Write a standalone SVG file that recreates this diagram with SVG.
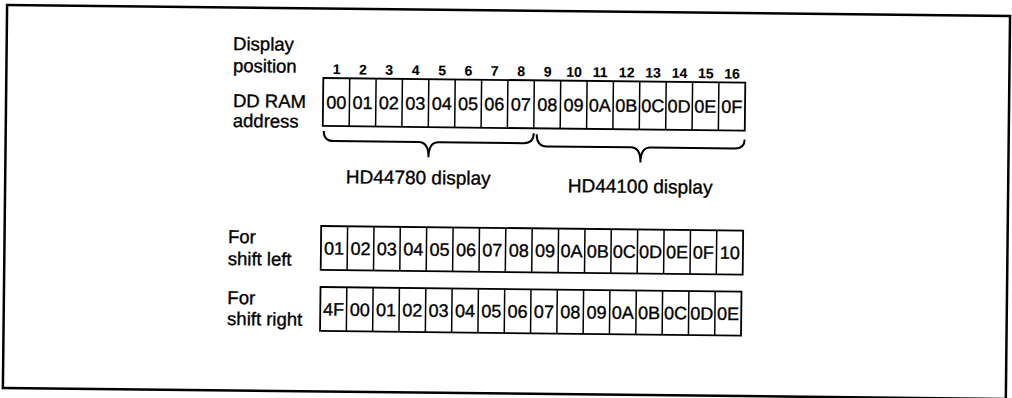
<svg xmlns="http://www.w3.org/2000/svg" width="1012" height="398" viewBox="0 0 1012 398">
<style>
text{font-family:"Liberation Sans",Arial,sans-serif;fill:#000;stroke:#000;stroke-width:0.35}
.lbl{font-size:18.5px}
.big{font-size:19px}
.num{font-size:14px;font-weight:bold;text-anchor:middle;stroke-width:0.1}
.c{font-size:18px;text-anchor:middle}
.box{fill:#fff;stroke:#000;stroke-width:1.8}
.div{fill:none;stroke:#000;stroke-width:1.5}
.brace{fill:none;stroke:#000;stroke-width:2}
</style>
<rect width="1012" height="398" fill="#fff"/>
<g transform="rotate(0.63 506 199)">
<rect id="frame" x="5" y="10.5" width="1003" height="383" fill="none" stroke="#000" stroke-width="2.5"/>
<g id="labels">
<text class="lbl" x="231.5" y="53">Display</text>
<text class="lbl" x="231.5" y="75">position</text>
<text class="lbl" x="232" y="110">DD RAM</text>
<text class="lbl" x="232" y="130">address</text>
<text class="lbl" x="228.5" y="246">For</text>
<text class="lbl" x="228.5" y="268">shift left</text>
<text class="lbl" x="228.5" y="307">For</text>
<text class="lbl" x="228.5" y="328">shift right</text>
</g>
<g id="positions">
<text class="num" x="335.2" y="76">1</text>
<text class="num" x="361.6" y="76">2</text>
<text class="num" x="387.9" y="76">3</text>
<text class="num" x="414.3" y="76">4</text>
<text class="num" x="440.7" y="76">5</text>
<text class="num" x="467.1" y="76">6</text>
<text class="num" x="493.4" y="76">7</text>
<text class="num" x="519.8" y="76">8</text>
<text class="num" x="546.2" y="76">9</text>
<text class="num" x="572.6" y="76">10</text>
<text class="num" x="598.9" y="76">11</text>
<text class="num" x="625.3" y="76">12</text>
<text class="num" x="651.7" y="76">13</text>
<text class="num" x="678.1" y="76">14</text>
<text class="num" x="704.4" y="76">15</text>
<text class="num" x="730.8" y="76">16</text>
</g>
<g id="row-ddram">
<rect class="box" x="322" y="80" width="422" height="48"/>
<path class="div" d="M348.4 80V128M374.8 80V128M401.1 80V128M427.5 80V128M453.9 80V128M480.3 80V128M506.6 80V128M533 80V128M559.4 80V128M585.8 80V128M612.1 80V128M638.5 80V128M664.9 80V128M691.3 80V128M717.6 80V128"/>
<text class="c" x="335.2" y="110.5">00</text>
<text class="c" x="361.6" y="110.5">01</text>
<text class="c" x="387.9" y="110.5">02</text>
<text class="c" x="414.3" y="110.5">03</text>
<text class="c" x="440.7" y="110.5">04</text>
<text class="c" x="467.1" y="110.5">05</text>
<text class="c" x="493.4" y="110.5">06</text>
<text class="c" x="519.8" y="110.5">07</text>
<text class="c" x="546.2" y="110.5">08</text>
<text class="c" x="572.6" y="110.5">09</text>
<text class="c" x="598.9" y="110.5">0A</text>
<text class="c" x="625.3" y="110.5">0B</text>
<text class="c" x="651.7" y="110.5">0C</text>
<text class="c" x="678.1" y="110.5">0D</text>
<text class="c" x="704.4" y="110.5">0E</text>
<text class="c" x="730.8" y="110.5">0F</text>
</g>
<g id="braces">
<path class="brace" d="M323 133Q323 143 333 143L418 143Q428 143 428 158Q428 143 438 143L523 143Q533 143 533 133"/>
<path class="brace" d="M536 134Q536 146 546 146L630 146Q640 146 640 161Q640 146 650 146L734 146Q744 146 744 137"/>
</g>
<g id="display-labels">
<text class="big" x="418" y="185" text-anchor="middle">HD44780 display</text>
<text class="big" x="640" y="191.5" text-anchor="middle">HD44100 display</text>
</g>
<g id="row-shift-left">
<rect class="box" x="321.5" y="228" width="422" height="44"/>
<path class="div" d="M347.9 228V272M374.3 228V272M400.6 228V272M427 228V272M453.4 228V272M479.8 228V272M506.1 228V272M532.5 228V272M558.9 228V272M585.3 228V272M611.6 228V272M638 228V272M664.4 228V272M690.8 228V272M717.1 228V272"/>
<text class="c" x="334.7" y="256.5">01</text>
<text class="c" x="361.1" y="256.5">02</text>
<text class="c" x="387.4" y="256.5">03</text>
<text class="c" x="413.8" y="256.5">04</text>
<text class="c" x="440.2" y="256.5">05</text>
<text class="c" x="466.6" y="256.5">06</text>
<text class="c" x="492.9" y="256.5">07</text>
<text class="c" x="519.3" y="256.5">08</text>
<text class="c" x="545.7" y="256.5">09</text>
<text class="c" x="572.1" y="256.5">0A</text>
<text class="c" x="598.4" y="256.5">0B</text>
<text class="c" x="624.8" y="256.5">0C</text>
<text class="c" x="651.2" y="256.5">0D</text>
<text class="c" x="677.6" y="256.5">0E</text>
<text class="c" x="703.9" y="256.5">0F</text>
<text class="c" x="730.3" y="256.5">10</text>
</g>
<g id="row-shift-right">
<rect class="box" x="321.5" y="289" width="421" height="44"/>
<path class="div" d="M347.8 289V333M374.1 289V333M400.4 289V333M426.8 289V333M453.1 289V333M479.4 289V333M505.7 289V333M532 289V333M558.3 289V333M584.6 289V333M610.9 289V333M637.3 289V333M663.6 289V333M689.9 289V333M716.2 289V333"/>
<text class="c" x="334.7" y="317.5">4F</text>
<text class="c" x="361" y="317.5">00</text>
<text class="c" x="387.3" y="317.5">01</text>
<text class="c" x="413.6" y="317.5">02</text>
<text class="c" x="439.9" y="317.5">03</text>
<text class="c" x="466.3" y="317.5">04</text>
<text class="c" x="492.6" y="317.5">05</text>
<text class="c" x="518.9" y="317.5">06</text>
<text class="c" x="545.2" y="317.5">07</text>
<text class="c" x="571.5" y="317.5">08</text>
<text class="c" x="597.8" y="317.5">09</text>
<text class="c" x="624.1" y="317.5">0A</text>
<text class="c" x="650.4" y="317.5">0B</text>
<text class="c" x="676.8" y="317.5">0C</text>
<text class="c" x="703.1" y="317.5">0D</text>
<text class="c" x="729.4" y="317.5">0E</text>
</g>
</g>
</svg>
